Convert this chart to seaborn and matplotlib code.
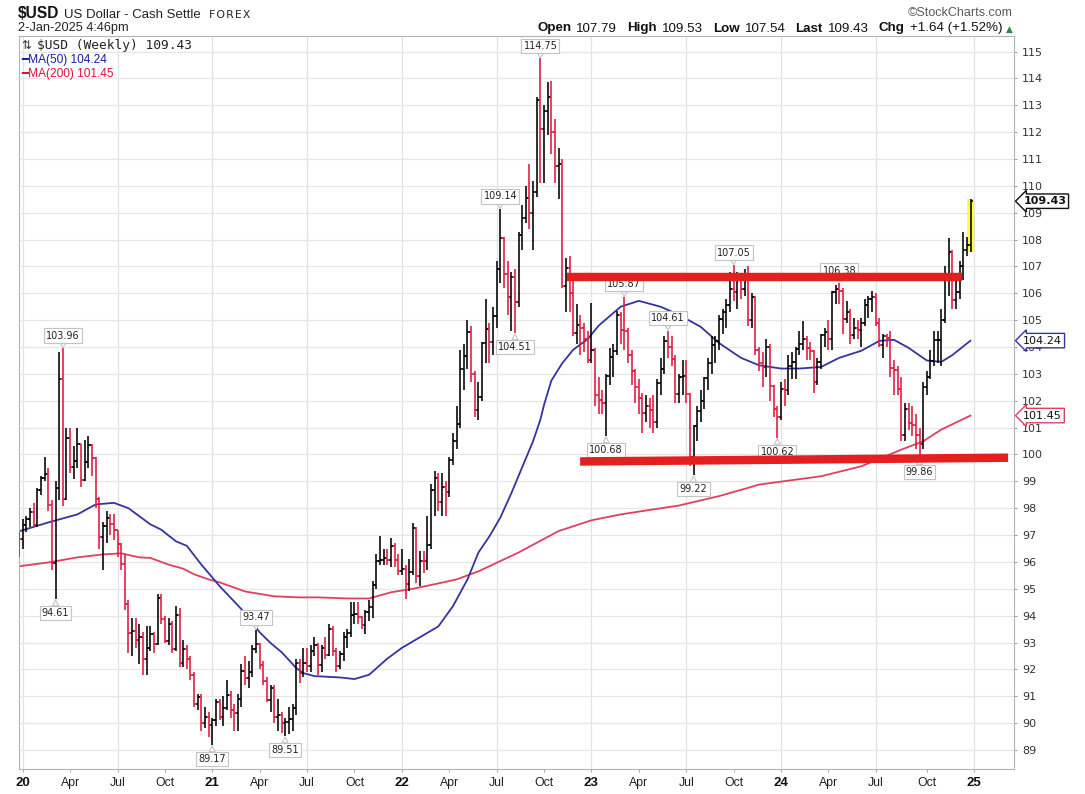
import numpy as np
import pandas as pd
import matplotlib
matplotlib.use("Agg")
import matplotlib.pyplot as plt
from matplotlib.patches import Rectangle
import seaborn as sns

# ---------------- data (weekly bars, first bar = week starting 2019-12-30) ----------------
week_start = "2019-12-30"
prior_close = 96.92

close_2020 = [96.84, 97.36, 97.61, 97.87, 97.39, 98.69, 99.11, 99.26, 98.13, 95.97, 98.75, 102.82, 98.35,
              100.61, 99.52, 99.77, 100.38, 99.05, 99.73, 100.36, 99.86, 98.34, 96.93, 97.33, 97.63, 97.43,
              97.18, 96.65, 95.91, 94.43, 93.34, 93.43, 93.09, 93.20, 92.37, 92.80, 93.33, 92.94, 94.65,
              93.86, 93.06, 93.69, 92.77, 94.04, 92.23, 92.76, 92.39, 91.79, 90.70, 90.98, 90.02, 90.24]
high_2020 = [97.10, 97.60, 97.70, 98.00, 98.20, 98.75, 99.20, 99.91, 99.50, 98.30, 99.00, 103.80, 103.96,
             101.00, 101.00, 100.30, 101.00, 100.40, 100.55, 100.70, 100.40, 99.90, 98.40, 97.50, 97.90, 97.80,
             97.80, 97.20, 96.70, 96.30, 94.60, 93.90, 93.90, 93.70, 93.40, 93.60, 93.60, 93.40, 94.80,
             94.80, 94.00, 93.90, 93.80, 94.35, 94.30, 93.10, 92.90, 92.50, 91.90, 91.10, 91.10, 90.60]
low_2020 = [96.20, 96.50, 97.10, 97.30, 97.30, 97.30, 98.50, 99.00, 97.90, 95.70, 94.61, 98.30, 98.10,
            98.30, 99.30, 99.10, 99.50, 98.80, 99.00, 99.50, 99.20, 98.00, 96.50, 95.70, 96.70, 97.00,
            96.80, 96.20, 95.70, 94.20, 92.60, 92.50, 92.80, 92.20, 91.80, 91.80, 92.70, 92.60, 92.90,
            93.70, 93.00, 92.90, 92.60, 92.70, 92.10, 92.10, 92.00, 91.60, 90.60, 90.50, 89.70, 89.80]

close_2021 = [89.94, 90.10, 90.77, 90.23, 90.58, 91.04, 90.48, 90.36, 90.88, 91.94, 91.67, 91.92, 92.77,
              92.95, 92.17, 91.56, 90.85, 91.30, 90.23, 90.31, 89.99, 90.03, 90.14, 90.56, 92.23, 91.85,
              92.23, 92.13, 92.69, 92.91, 92.17, 92.80, 92.52, 93.49, 92.69, 92.13, 92.58, 93.22, 93.34,
              94.04, 94.08, 93.96, 93.64, 94.12, 94.32, 95.13, 96.03, 96.08, 96.13, 96.08, 96.60, 96.08, 95.67]
high_2021 = [90.40, 90.20, 90.90, 90.90, 91.00, 91.60, 91.20, 90.70, 91.10, 92.20, 92.50, 92.30, 92.90,
             93.47, 93.00, 92.30, 91.70, 91.40, 91.40, 90.90, 90.40, 90.20, 90.60, 90.70, 92.40, 92.40,
             92.80, 92.80, 92.90, 93.20, 93.00, 92.90, 93.20, 93.70, 93.60, 92.80, 92.70, 93.40, 93.50,
             94.50, 94.50, 94.50, 94.00, 94.20, 94.60, 95.30, 96.30, 96.95, 96.50, 96.50, 96.90, 96.70, 96.30]
low_2021 = [89.50, 89.17, 89.90, 90.10, 89.90, 90.50, 90.20, 89.70, 89.70, 90.60, 91.40, 91.30, 91.70,
            92.60, 92.00, 91.40, 90.80, 90.40, 90.00, 89.70, 89.65, 89.51, 89.60, 89.70, 90.30, 91.50,
            91.70, 91.90, 91.90, 92.50, 91.80, 91.90, 92.40, 92.50, 92.50, 91.90, 92.00, 92.30, 92.80,
            93.20, 93.70, 93.70, 93.50, 93.30, 93.80, 93.90, 95.00, 95.90, 95.90, 95.90, 95.80, 95.80, 95.50]

close_2022 = [95.73, 95.17, 95.64, 97.27, 95.49, 96.05, 96.04, 96.62, 98.67, 99.13, 98.23, 98.79, 98.62,
              99.81, 100.50, 101.15, 103.20, 103.66, 104.56, 103.01, 101.67, 102.14, 104.15, 104.69, 104.19,
              105.14, 106.90, 108.07, 106.73, 105.88, 106.61, 105.66, 108.16, 108.82, 109.54, 109.00, 109.76,
              113.19, 112.12, 112.79, 113.31, 111.99, 110.75, 110.81, 106.29, 106.93, 106.02, 104.51, 104.82,
              104.71, 104.31, 103.52]
high_2022 = [96.50, 95.90, 96.10, 97.44, 97.30, 96.40, 96.40, 97.70, 98.90, 99.40, 99.30, 99.30, 99.00,
             99.90, 100.80, 101.80, 103.90, 104.10, 105.00, 104.80, 103.10, 102.70, 104.20, 105.80, 104.90,
             105.50, 107.20, 109.14, 108.10, 107.20, 106.80, 106.90, 108.30, 109.30, 110.00, 110.80, 110.20,
             113.30, 114.75, 113.00, 113.88, 113.90, 112.50, 111.40, 111.00, 107.30, 107.40, 106.70, 105.60,
             105.20, 104.90, 104.60]
low_2022 = [95.50, 94.63, 94.90, 95.50, 95.20, 95.10, 95.60, 95.70, 96.50, 97.70, 97.90, 97.70, 97.70,
            98.40, 99.60, 100.20, 101.00, 102.40, 103.20, 102.70, 101.40, 101.30, 102.00, 103.40, 103.40,
            103.70, 104.70, 106.40, 106.20, 105.20, 104.60, 104.51, 105.50, 107.60, 108.60, 108.40, 107.60,
            109.60, 110.10, 110.10, 111.90, 111.20, 110.10, 109.50, 106.20, 105.30, 105.30, 104.40, 104.10,
            103.70, 103.80, 103.40]

close_2023 = [103.89, 102.20, 102.02, 101.92, 102.92, 103.63, 103.87, 105.21, 104.62, 104.58, 103.72, 103.12,
              102.51, 102.09, 101.55, 101.82, 101.66, 101.21, 102.68, 103.20, 104.21, 104.01, 103.55, 102.27,
              102.90, 102.91, 102.27, 99.91, 101.07, 101.62, 102.01, 102.85, 103.40, 104.08, 104.23, 105.06,
              105.32, 105.58, 106.17, 106.04, 106.65, 106.16, 106.56, 105.02, 105.87, 103.89, 103.40, 103.27,
              103.99, 102.55, 101.71, 101.38]
high_2023 = [105.63, 103.95, 102.90, 102.40, 103.00, 103.96, 104.10, 105.36, 105.30, 105.87, 104.70, 103.90,
             103.20, 102.80, 102.30, 102.20, 102.10, 102.20, 102.80, 103.60, 104.40, 104.61, 104.40, 103.70,
             103.00, 103.50, 103.50, 102.30, 101.10, 101.80, 102.40, 102.90, 103.60, 104.40, 104.40, 105.20,
             105.40, 105.80, 106.80, 107.05, 106.80, 106.70, 106.90, 107.00, 106.00, 105.90, 104.00, 103.80,
             104.30, 104.10, 102.60, 101.80]
low_2023 = [103.40, 101.80, 101.50, 101.50, 100.68, 102.60, 102.90, 103.70, 104.10, 103.90, 103.40, 102.60,
            101.90, 101.50, 100.80, 101.20, 101.00, 100.80, 101.00, 102.20, 103.00, 103.60, 103.30, 101.90,
            101.90, 102.20, 101.90, 99.57, 99.22, 100.50, 101.20, 101.70, 102.40, 103.00, 103.40, 103.90,
            104.50, 104.70, 105.30, 105.70, 105.40, 105.80, 105.90, 104.80, 104.70, 103.70, 103.10, 102.50,
            102.90, 102.00, 101.40, 100.62]

close_2024 = [102.43, 102.40, 103.29, 103.43, 103.92, 104.11, 104.29, 103.95, 103.86, 102.71, 103.43, 104.43,
              104.55, 104.29, 106.04, 106.15, 106.09, 105.03, 105.30, 104.45, 104.72, 104.62, 104.89, 105.55,
              105.79, 105.87, 104.88, 104.09, 104.40, 104.32, 103.21, 103.14, 102.45, 100.72, 101.70, 101.18,
              101.11, 100.72, 100.38, 102.52, 102.90, 103.49, 104.26, 104.28, 104.99, 106.69, 107.55, 105.74,
              106.06, 107.00, 107.62, 107.79, 109.43]
high_2024 = [102.70, 102.80, 103.70, 103.80, 104.00, 104.60, 104.97, 104.40, 104.20, 103.90, 103.60, 104.50,
             104.70, 105.00, 106.10, 106.30, 106.38, 106.20, 105.70, 105.40, 105.10, 105.00, 105.10, 105.80,
             105.90, 106.10, 106.00, 105.10, 104.50, 104.50, 104.60, 103.50, 103.30, 102.90, 101.90, 101.90,
             101.80, 101.50, 101.00, 102.70, 103.10, 103.90, 104.60, 104.60, 105.40, 107.00, 108.07, 107.60,
             106.60, 107.20, 108.30, 108.10, 109.53]
low_2024 = [101.30, 101.80, 102.20, 102.80, 102.80, 103.70, 103.90, 103.50, 103.50, 102.30, 102.60, 103.20,
            104.00, 103.90, 103.90, 105.60, 105.60, 104.50, 104.90, 104.10, 104.30, 104.30, 104.00, 104.80,
            105.10, 105.30, 104.80, 104.00, 103.60, 104.00, 102.90, 102.20, 102.20, 100.50, 100.50, 100.90,
            100.70, 100.20, 99.86, 100.20, 102.20, 102.80, 103.30, 103.40, 103.30, 104.90, 105.90, 105.40,
            105.40, 105.80, 106.50, 107.40, 107.54]

# moving averages (week index, value)
ma50_week = [0, 8, 16, 21, 26, 30, 36, 39, 43, 46, 50, 55, 61, 66, 69, 72, 74, 76, 78, 81, 88, 92, 96,
             101, 105, 110, 115, 119, 123, 126, 129, 132, 135, 137, 139, 141, 143, 144, 146, 149, 152, 156,
             159, 165, 170, 176, 181, 187, 192, 198, 203, 209, 214, 220, 225, 231, 236, 240, 244, 249, 253,
             256, 261]
ma50_value = [97.14, 97.47, 97.77, 98.14, 98.20, 98.00, 97.40, 97.20, 96.77, 96.60, 95.90, 95.10, 94.24,
              93.38, 92.98, 92.64, 92.35, 92.05, 91.86, 91.75, 91.70, 91.64, 91.80, 92.40, 92.80, 93.20,
              93.60, 94.35, 95.35, 96.35, 96.95, 97.65, 98.55, 99.20, 99.85, 100.50, 101.30, 101.85, 102.75,
              103.40, 103.90, 104.30, 104.80, 105.50, 105.72, 105.50, 105.20, 104.75, 104.15, 103.60, 103.32,
              103.20, 103.20, 103.26, 103.60, 103.86, 104.23, 104.27, 103.97, 103.50, 103.45, 103.70, 104.24]
ma200_week = [0, 8, 16, 23, 28, 33, 36, 41, 45, 48, 52, 55, 62, 70, 77, 82, 90, 96, 102, 108, 115, 120,
              126, 137, 148, 157, 165, 181, 192, 200, 203, 220, 231, 242, 248, 253, 261]
ma200_value = [95.84, 95.98, 96.17, 96.28, 96.32, 96.17, 96.15, 95.90, 95.75, 95.54, 95.35, 95.24, 94.90,
               94.72, 94.68, 94.68, 94.64, 94.64, 94.87, 95.00, 95.20, 95.35, 95.65, 96.35, 97.15, 97.55,
               97.77, 98.10, 98.45, 98.76, 98.88, 99.19, 99.56, 100.18, 100.49, 100.93, 101.45]

# hand-drawn trend lines (week index, value)
resistance_week = [150.3, 258.7]
resistance_value = [106.59, 106.59]
support_week = [153.9, 271.3]
support_value = [99.74, 99.88]

# labelled swing highs / lows
callout_week = [10, 12, 53, 65, 73, 132, 136, 143, 161, 166, 178, 185, 196, 208, 225, 247]
callout_value = [94.61, 103.96, 89.17, 93.47, 89.51, 109.14, 104.51, 114.75, 100.68, 105.87, 104.61,
                 99.22, 107.05, 100.62, 106.38, 99.86]
callout_side = ['low', 'high', 'low', 'high', 'low', 'high', 'low', 'high', 'low', 'high', 'high',
                'low', 'high', 'low', 'high', 'low']

quote_open, quote_high, quote_low, quote_last = 107.79, 109.53, 107.54, 109.43
quote_chg, quote_pct = 1.64, 1.52
ma50_last, ma200_last = 104.24, 101.45

# ---------------- assemble ----------------
closes = np.array(close_2020 + close_2021 + close_2022 + close_2023 + close_2024)
highs = np.array(high_2020 + high_2021 + high_2022 + high_2023 + high_2024)
lows = np.array(low_2020 + low_2021 + low_2022 + low_2023 + low_2024)
opens = np.concatenate([[prior_close], closes[:-1]])
n = len(closes)
wk = np.arange(n)

BLACK = "#000000"
RED = "#e3173f"
BLUE = "#34349c"
MARED = "#e04060"
LINE_RED = "#e41f1f"

W, H = 1085, 794
def fx(px): return px / W
def fy(py): return 1 - py / H

sns.set_theme(style="white")
plt.rcParams["font.family"] = ["DejaVu Sans"]

fig = plt.figure(figsize=(W / 100, H / 100), dpi=100)
ax = fig.add_axes([fx(19), fy(769.3), (1014.3 - 19) / W, (769.3 - 35.6) / H])
ax.set_facecolor("white")

# x ticks: first weekly bar of each quarter
qstarts = pd.date_range("2020-01-01", "2025-01-01", freq="QS")
start = pd.Timestamp(week_start)
tick_pos, tick_lab, tick_year = [], [], []
for q in qstarts:
    monday = q + pd.Timedelta(days=(7 - q.weekday()) % 7)
    tick_pos.append((monday - start).days // 7)
    if q.month == 1:
        tick_lab.append(f"{q.year % 100:02d}")
        tick_year.append(True)
    else:
        tick_lab.append(q.strftime("%b"))
        tick_year.append(False)

# grid
for p, q in zip(tick_pos, qstarts):
    if q.month in (1, 7):
        ax.axvline(p, color="#e2e2e2", lw=0.9, zorder=0)
ax.set_yticks(np.arange(89, 116))
ax.yaxis.grid(True, color="#e6e6e6", lw=0.9, zorder=0)
ax.set_axisbelow(True)

# moving averages
sns.lineplot(x=ma200_week, y=ma200_value, ax=ax, color=MARED, lw=1.3, zorder=2, legend=False)
sns.lineplot(x=ma50_week, y=ma50_value, ax=ax, color=BLUE, lw=1.3, zorder=2, legend=False)

# highlight of last bar
ax.add_patch(Rectangle((wk[-1] - 0.85, lows[-1]), 1.7, highs[-1] - lows[-1],
                       facecolor="#ffff3a", edgecolor="none", zorder=2.5))

# OHLC bars
cols = np.where(closes < opens, RED, BLACK)
ax.vlines(wk, lows, highs, colors=cols, lw=1.15, zorder=3)
ax.hlines(opens, wk - 0.6, wk, colors=cols, lw=1.15, zorder=3)
ax.hlines(closes, wk, wk + 0.6, colors=cols, lw=1.15, zorder=3)

# callouts
for w, v, s in zip(callout_week, callout_value, callout_side):
    off = 9.0 if s == "high" else -10.0
    ax.annotate(f"{v:.2f}", xy=(w, v), xytext=(0, off), textcoords="offset points",
                ha="center", va="center", fontsize=7, color="#222222", family="DejaVu Sans",
                bbox=dict(boxstyle="square,pad=0.22", fc="white", ec="#c4c4c4", lw=0.8),
                arrowprops=dict(arrowstyle="wedge,tail_width=0.6,shrink_factor=0.5",
                                fc="white", ec="#c4c4c4", lw=0.8, shrinkA=0, shrinkB=0.5),
                zorder=4)

# trend lines
ax.plot(resistance_week, resistance_value, color=LINE_RED, lw=6.1, solid_capstyle="butt", zorder=5)
ax.plot(support_week, support_value, color=LINE_RED, lw=6.1, solid_capstyle="butt", zorder=5)

ax.set_xlim(-0.03, 273.0)
ax.set_ylim(88.28, 115.595)

# axes styling
for sp in ax.spines.values():
    sp.set_color("#b4b4b4")
    sp.set_linewidth(0.8)
ax.yaxis.tick_right()
ax.tick_params(axis="y", which="major", right=True, left=False, length=2.5, width=0.7,
               color="#999999", labelsize=8, labelcolor="#333333", pad=3)
ax.set_xticks(tick_pos)
ax.set_xticklabels(tick_lab)
ax.tick_params(axis="x", which="major", bottom=True, length=2, width=0.7, color="#aaaaaa", pad=3.5)
for lab, isy in zip(ax.get_xticklabels(), tick_year):
    lab.set_fontfamily("Liberation Sans")
    if isy:
        lab.set_fontweight("bold")
        lab.set_fontsize(9.5)
        lab.set_color("#111111")
    else:
        lab.set_fontsize(8.8)
        lab.set_color("#222222")
ax.set_xlabel("")
ax.set_ylabel("")

# value tags on the right
for val, ec, bold in [(quote_last, "#111111", True), (ma50_last, BLUE, False), (ma200_last, MARED, False)]:
    ax.annotate(f"{val:.2f}", xy=(1.0, val), xycoords=("axes fraction", "data"),
                xytext=(6.5, 0), textcoords="offset points", ha="left", va="center",
                fontsize=8, fontweight="bold" if bold else "normal", color="#111111",
                bbox=dict(boxstyle="larrow,pad=0.2", fc="white", ec=ec, lw=1.0),
                annotation_clip=False, zorder=6)

# legend in top-left
fig.text(fx(21), fy(49), "\u21c5", fontsize=8.5, color="#333333", va="baseline", family="DejaVu Sans")
fig.text(fx(37), fy(49), f"$USD (Weekly) {quote_last:.2f}", fontsize=9.3, color="#222222",
         va="baseline", family="DejaVu Sans Mono")
fig.text(fx(21), fy(63), f"\u2501MA(50) {ma50_last:.2f}", fontsize=8.6, color="#1c1ca8",
         va="baseline", family=["Liberation Sans", "DejaVu Sans"])
fig.text(fx(21), fy(77), f"\u2501MA(200) {ma200_last:.2f}", fontsize=8.6, color="#d8143a",
         va="baseline", family=["Liberation Sans", "DejaVu Sans"])

# header
fig.text(fx(18), fy(18.5), "$USD", fontsize=11.2, fontweight="bold", color="#111111",
         va="baseline", family="Liberation Sans")
fig.text(fx(64.5), fy(18.5), "US Dollar - Cash Settle", fontsize=9.5, color="#222222",
         va="baseline", family="Liberation Sans")
fig.text(fx(209), fy(18.5), "F O R E X".replace(" ", "\u200a"), fontsize=7.8, color="#222222",
         va="baseline", family="DejaVu Sans")
fig.text(fx(17.5), fy(31.5), "2-Jan-2025 4:46pm", fontsize=9.2, color="#222222",
         va="baseline", family="Liberation Sans")
fig.text(fx(1013), fy(16), "\u00a9StockCharts.com", fontsize=9, color="#5a5a5a",
         va="baseline", ha="right", family="Liberation Sans")

renderer = fig.canvas.get_renderer()
runs = [("Open", True), (f"{quote_open:.2f}", False), ("High", True), (f"{quote_high:.2f}", False),
        ("Low", True), (f"{quote_low:.2f}", False), ("Last", True), (f"{quote_last:.2f}", False),
        ("Chg", True), (f"+{quote_chg:.2f} (+{quote_pct:.2f}%)", False)]
gaps = [5, 10, 5, 10, 5, 10, 5, 10, 5, 4]
objs, widths = [], []
for s, b in runs:
    t = fig.text(0, 0, s, fontsize=9.6, fontweight="bold" if b else "normal", color="#111111",
                 va="baseline", ha="left", family="Liberation Sans")
    objs.append(t)
    widths.append(t.get_window_extent(renderer).width)
tri = fig.text(0, 0, "\u25b2", fontsize=6.5, color="#2a8a4a", va="baseline", ha="left",
               family="DejaVu Sans")
tri_w = tri.get_window_extent(renderer).width
total = sum(widths) + sum(gaps) + tri_w
x = 1013 - total
for t, w, g in zip(objs, widths, gaps):
    t.set_position((fx(x), fy(31.5)))
    x += w + g
tri.set_position((fx(x), fy(31.5)))

fig.savefig("out.png", dpi=100, facecolor="white")
